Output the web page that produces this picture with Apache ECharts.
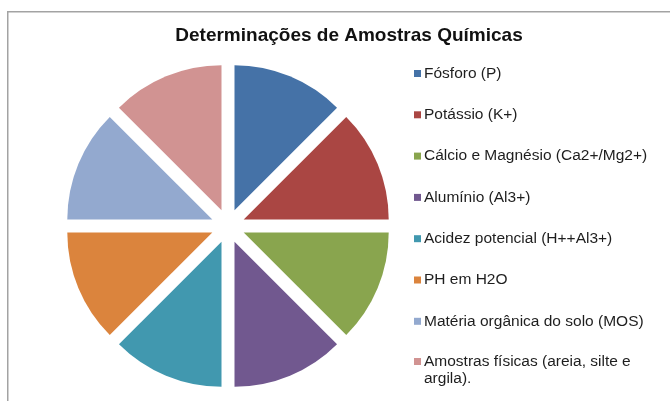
<!DOCTYPE html>
<html>
<head>
<meta charset="utf-8">
<script src="https://cdn.jsdelivr.net/npm/echarts@6/dist/echarts.min.js"></script>
<style>
  html, body { margin: 0; padding: 0; background: #fff; }
  #main { width: 670px; height: 401px; }
</style>
</head>
<body>
<div id="main"></div>
<script>
// categorias e valores (8 fatias iguais)
const categories = [
  "Fósforo (P)",
  "Potássio (K+)",
  "Cálcio e Magnésio (Ca2+/Mg2+)",
  "Alumínio (Al3+)",
  "Acidez potencial (H++Al3+)",
  "PH em H2O",
  "Matéria orgânica do solo (MOS)",
  "Amostras físicas (areia, silte e argila).",
];
const values = [1, 1, 1, 1, 1, 1, 1, 1];
const colors = ["#4572A7", "#AA4643", "#89A54E", "#71588F", "#4198AF", "#DB843D", "#93A9CF", "#D19392"];

const myChart = echarts.init(document.getElementById("main"));

const legendText = {
  fontFamily: "Liberation Sans",
  fontSize: 15.5,
  lineHeight: 17,
  color: "#1e1e1e",
  padding: [0, 0, 0, -2],
};
const legendBase = {
  orient: "vertical",
  left: 414,
  padding: 0,
  icon: "rect",
  itemWidth: 7,
  itemHeight: 7,
  itemGap: 24.3,
  selectedMode: false,
  textStyle: legendText,
};

const option = {
  animation: false,
  color: colors,
  title: {
    text: "Determinações de Amostras Químicas",
    left: 344,
    textAlign: "center",
    top: 21,
    textStyle: {
      fontFamily: "Liberation Sans",
      fontSize: 19,
      fontWeight: "bold",
      color: "#111",
    },
  },
  legend: [
    // as 7 primeiras
    Object.assign({}, legendBase, {
      top: 65,
      data: categories.slice(0, 7),
    }),
    // a última quebra em duas linhas; linha vazia em cima p/ alinhar o marcador com a 1a linha
    Object.assign({}, legendBase, {
      top: 336,
      formatter: () => "\nAmostras físicas (areia, silte e\nargila).",
      data: [categories[7]],
    }),
  ],
  graphic: [
    {
      type: "rect",
      shape: { x: 7.75, y: 11.75, width: 700, height: 420 },
      style: { fill: "none", stroke: "#a3a3a3", lineWidth: 1.5 },
      silent: true,
    },
  ],
  series: [
    {
      type: "pie",
      center: [228, 226],
      radius: 145,
      startAngle: 90,
      clockwise: true,
      selectedMode: "multiple",
      selectedOffset: 17,
      label: { show: false },
      labelLine: { show: false },
      emphasis: { disabled: true },
      silent: true,
      data: categories.map((c, i) => ({ name: c, value: values[i], selected: true })),
    },
  ],
};

myChart.setOption(option);
</script>
</body>
</html>
